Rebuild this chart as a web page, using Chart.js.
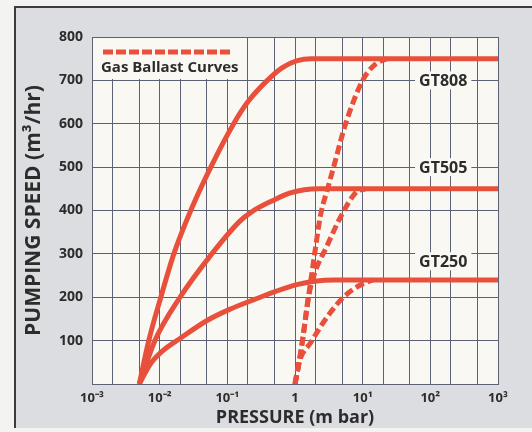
<!DOCTYPE html>
<html>
<head>
<meta charset="utf-8">
<script src="https://cdn.jsdelivr.net/npm/chart.js@4"></script>
<style>
  html, body { margin: 0; padding: 0; background: #f3f3f1; }
  #panel {
    position: absolute; left: 14px; top: 6px; width: 518px; height: 422px;
    background: #dcdde0; border-top: 2px solid #3c3c3c; border-left: 2px solid #3c3c3c;
    box-sizing: border-box;
  }
  #wrap { position: absolute; left: 0; top: 0; width: 532px; height: 432px; }
</style>
</head>
<body>
<div id="panel"></div>
<div id="wrap"><canvas id="myChart" width="532" height="432"></canvas></div>
<script>
// pressure (m bar) / pumping speed (m3/hr)
const gt808Pressure = [0.005, 0.0069, 0.0104, 0.0162, 0.0288, 0.057, 0.124, 0.2, 0.39, 0.66, 1.05, 1.75, 1000];
const gt808Speed = [0, 100, 200, 300, 400, 500, 600, 650, 700, 730, 745, 750, 750];

const gt505Pressure = [0.005, 0.0085, 0.02, 0.059, 0.152, 0.229, 0.5, 0.83, 1.38, 2.3, 1000];
const gt505Speed = [0, 100, 200, 300, 375, 397, 425, 440, 448, 450, 450];

const gt250Pressure = [0.005, 0.0072, 0.0112, 0.02, 0.051, 0.108, 0.253, 0.53, 1.06, 1.94, 3.8, 1000];
const gt250Speed = [0, 45, 77, 105, 147, 172, 195, 214, 229, 237, 240, 240];

// gas ballast curves
const gb808Pressure = [1, 1.15, 1.29, 1.58, 1.95, 2.39, 3.03, 3.72, 5.6, 10, 15.6, 22.7];
const gb808Speed = [0, 50, 100, 200, 300, 390, 450, 500, 600, 700, 738, 750];

const gb505Pressure = [1, 1.15, 1.29, 1.58, 2.0, 2.9, 4.9, 8.1, 11];
const gb505Speed = [0, 50, 100, 200, 260, 315, 390, 443, 450];

const gb250Pressure = [1, 1.15, 1.7, 3.03, 5.2, 8.7, 14.1];
const gb250Speed = [0, 50, 95, 156, 200, 226, 240];

const decades = [0.001, 0.01, 0.1, 1, 10, 100, 1000];
const decadeLabels = ["10⁻³", "10⁻²", "10⁻¹", "1", "10¹", "10²", "10³"];
const gridSteps = [1, 2, 5];

const seriesNames = ["GT808", "GT505", "GT250"];
const nameSpeeds = [700, 500, 283];
const namePressure = 155;

const red = "#e8503c";
const ink = "#2c2c2c";
const paper = "#faf8f2";

const xTicks = [];
decades.forEach((d, i) => {
  gridSteps.forEach(s => {
    if (i === decades.length - 1 && s > 1) return;
    xTicks.push(d * s);
  });
});

const toPoints = (xs, ys) => xs.map((x, i) => ({ x: x, y: ys[i] }));

const solid = (label, xs, ys) => ({
  label: label,
  data: toPoints(xs, ys),
  borderColor: red,
  borderWidth: 5,
  pointRadius: 0,
  cubicInterpolationMode: "monotone",
  fill: false,
});

const dashed = (xs, ys) => ({
  label: "Gas Ballast Curves",
  data: toPoints(xs, ys),
  borderColor: red,
  borderWidth: 5,
  borderDash: [9, 4],
  pointRadius: 0,
  cubicInterpolationMode: "monotone",
  fill: false,
});

const data = {
  datasets: [
    solid(seriesNames[0], gt808Pressure, gt808Speed),
    solid(seriesNames[1], gt505Pressure, gt505Speed),
    solid(seriesNames[2], gt250Pressure, gt250Speed),
    dashed(gb808Pressure, gb808Speed),
    dashed(gb505Pressure, gb505Speed),
    dashed(gb250Pressure, gb250Speed),
  ],
};

const plotBackground = {
  id: "plotBackground",
  beforeDraw(chart) {
    const { ctx, chartArea: a } = chart;
    ctx.save();
    ctx.fillStyle = paper;
    ctx.fillRect(a.left, a.top, a.right - a.left, a.bottom - a.top);
    ctx.restore();
  },
};

// white boxes for the legend and the pump names, drawn over the grid
const labelBoxes = {
  id: "labelBoxes",
  beforeDatasetsDraw(chart) {
    const { ctx, chartArea: a, scales } = chart;
    ctx.save();
    ctx.fillStyle = paper;
    ctx.fillRect(a.left + 1, a.top + 1, 152, 41);

    ctx.strokeStyle = red;
    ctx.lineWidth = 5;
    ctx.setLineDash([10, 3]);
    ctx.beginPath();
    ctx.moveTo(a.left + 11, a.top + 15);
    ctx.lineTo(a.left + 140, a.top + 15);
    ctx.stroke();
    ctx.setLineDash([]);

    ctx.fillStyle = ink;
    ctx.font = "bold 15px 'Open Sans'";
    ctx.textBaseline = "middle";
    ctx.textAlign = "left";
    ctx.fillText(data.datasets[3].label, a.left + 9, a.top + 31);

    ctx.font = "bold 16px 'Open Sans'";
    ctx.textAlign = "center";
    seriesNames.forEach((name, i) => {
      const x = scales.x.getPixelForValue(namePressure);
      const y = scales.y.getPixelForValue(nameSpeeds[i]);
      const w = ctx.measureText(name).width + 8;
      ctx.fillStyle = paper;
      ctx.fillRect(x - w / 2, y - 9, w, 18);
      ctx.fillStyle = ink;
      ctx.fillText(name, x, y + 1);
    });
    ctx.restore();
  },
};

const config = {
  type: "line",
  data: data,
  options: {
    responsive: false,
    animation: false,
    layout: {
      padding: { left: 20, right: 34, top: 37, bottom: 0 },
    },
    plugins: {
      legend: { display: false },
      title: { display: false },
      tooltip: { enabled: false },
    },
    scales: {
      x: {
        type: "logarithmic",
        min: 0.001,
        max: 1000,
        afterBuildTicks: (scale) => {
          scale.ticks = xTicks.map(v => ({ value: v }));
        },
        afterFit: (scale) => {
          scale.height = 48;
        },
        grid: {
          color: "#5c6176",
          lineWidth: 1,
          drawTicks: false,
        },
        border: { color: "#5c6176" },
        ticks: {
          autoSkip: false,
          maxRotation: 0,
          padding: 6,
          color: ink,
          font: { family: "'Open Sans'", size: 13, weight: "bold" },
          callback: (value) => {
            const i = decades.findIndex(d => Math.abs(d - value) / d < 1e-6);
            return i >= 0 ? decadeLabels[i] : "";
          },
        },
        title: {
          display: true,
          text: "PRESSURE (m bar)",
          color: ink,
          font: { family: "'Open Sans'", size: 18, weight: "bold" },
          padding: { top: 0, bottom: 3 },
        },
      },
      y: {
        min: 0,
        max: 800,
        afterFit: (scale) => {
          scale.width = 72;
        },
        grid: {
          color: "#5c6176",
          lineWidth: 1,
          drawTicks: false,
        },
        border: { color: "#5c6176" },
        ticks: {
          stepSize: 100,
          padding: 9,
          color: ink,
          font: { family: "'Open Sans'", size: 14, weight: "bold" },
          callback: (value) => (value === 0 ? "" : value),
        },
        title: {
          display: true,
          text: "PUMPING SPEED (m³/hr)",
          color: ink,
          font: { family: "'Open Sans'", size: 21, weight: "bold" },
          padding: { top: 1, bottom: 0 },
        },
      },
    },
  },
  plugins: [plotBackground, labelBoxes],
};

const myChart = new Chart(document.getElementById("myChart"), config);
</script>
</body>
</html>
